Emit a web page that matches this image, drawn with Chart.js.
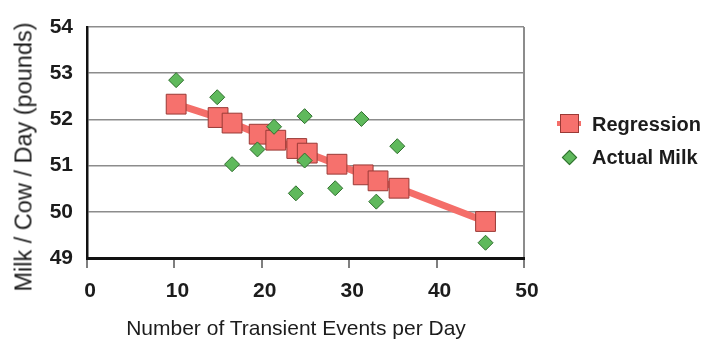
<!DOCTYPE html>
<html>
<head>
<meta charset="utf-8">
<script src="https://cdn.jsdelivr.net/npm/chart.js@4"></script>
<style>
  html, body { margin: 0; padding: 0; background: #fff; }
  #wrap { position: relative; width: 706px; height: 343px; font-family: "Liberation Sans", Arial, sans-serif; color: #1c1c1c; }
  #chart { position: absolute; left: 0; top: 0; }
  .ytitle { position: absolute; left: 24px; top: 157px; font-size: 23.5px; white-space: nowrap;
            transform: translate(-50%, -50%) rotate(-90deg); }
  .xtitle { position: absolute; left: 296px; top: 328px; font-size: 21px; white-space: nowrap;
            transform: translate(-50%, -50%); }
  .leg-text { position: absolute; left: 592px; font-size: 20px; font-weight: bold; white-space: nowrap;
              transform: translateY(-50%); }
  .leg-line { position: absolute; left: 557px; width: 24px; height: 5px; background: #f46e69; }
  .leg-rect { position: absolute; left: 560px; width: 17px; height: 17px; background: #f6716d; border: 1px solid #9a3a36; }
  .leg-diam { position: absolute; left: 564px; width: 9px; height: 9px; background: #5fb95c; border: 1px solid #2f6e2d;
              transform: rotate(45deg); }
</style>
</head>
<body>
<div id="wrap">
  <canvas id="chart" width="706" height="343"></canvas>
  <div class="ytitle">Milk / Cow / Day (pounds)</div>
  <div class="xtitle">Number of Transient Events per Day</div>
  <div class="leg-line" style="top:121px"></div>
  <div class="leg-rect" style="top:114px"></div>
  <div class="leg-text" style="top:124px">Regression</div>
  <div class="leg-diam" style="top:152px"></div>
  <div class="leg-text" style="top:157px">Actual Milk</div>
</div>

<script>
/* -------------------------------------------------
   Data
   ------------------------------------------------- */
const regressionX = [10.2, 15.0, 16.6, 19.7, 21.6, 24.0, 25.2, 28.6, 31.6, 33.3, 35.7, 45.6];
const regressionY = [52.33, 52.04, 51.92, 51.68, 51.55, 51.37, 51.27, 51.03, 50.80, 50.67, 50.51, 49.79];

const actualX = [10.2, 14.9, 16.6, 19.5, 21.4, 23.9, 24.9, 24.9, 28.4, 31.4, 33.1, 35.5, 45.6];
const actualY = [52.85, 52.48, 51.03, 51.35, 51.84, 50.40, 52.07, 51.11, 50.51, 52.01, 50.22, 51.42, 49.33];

const xTicks = [0, 10, 20, 30, 40, 50];
const yTicks = [49, 50, 51, 52, 53, 54];

/* -------------------------------------------------
   Helpers
   ------------------------------------------------- */
function toPoints(xs, ys) {
  return xs.map((x, i) => ({ x, y: ys[i] }));
}

const tickFont = { family: '"Liberation Sans", Arial, sans-serif', size: 21, weight: 'bold' };

/* -------------------------------------------------
   Chart
   ------------------------------------------------- */
new Chart(document.getElementById('chart').getContext('2d'), {
  type: 'scatter',
  data: {
    datasets: [
      {
        label: 'Regression',
        data: toPoints(regressionX, regressionY),
        showLine: true,
        borderColor: '#f46e69',
        borderWidth: 7,
        pointStyle: 'rect',
        pointRadius: 14,
        pointBackgroundColor: '#f6716d',
        pointBorderColor: '#9a3a36',
        pointBorderWidth: 1,
        order: 2,
      },
      {
        label: 'Actual Milk',
        data: toPoints(actualX, actualY),
        pointStyle: 'rectRot',
        pointRadius: 7.5,
        pointBackgroundColor: '#5fb95c',
        pointBorderColor: '#2f6e2d',
        pointBorderWidth: 1,
        order: 1,
      },
    ],
  },
  options: {
    responsive: false,
    animation: false,
    events: [],
    layout: { padding: { top: 27, right: 182, left: 0, bottom: 0 } },
    plugins: {
      legend: { display: false },
      tooltip: { enabled: false },
    },
    scales: {
      x: {
        type: 'linear',
        min: xTicks[0],
        max: xTicks[xTicks.length - 1],
        afterBuildTicks: s => { s.ticks = xTicks.map(v => ({ value: v })); },
        afterFit: s => { s.height = 85; },
        ticks: { font: tickFont, color: '#1c1c1c', padding: 11, labelOffset: 3 },
        grid: {
          // only the right-hand frame line shows inside the plot
          color: c => (c.tick && c.tick.value === 50 ? '#8c8c8c' : 'rgba(0,0,0,0)'),
          lineWidth: 2,
          tickColor: '#555',
          tickLength: 10,
          tickWidth: 1.5,
        },
        border: { color: '#111', width: 3 },
      },
      y: {
        type: 'linear',
        min: yTicks[0],
        max: yTicks[yTicks.length - 1],
        afterBuildTicks: s => { s.ticks = yTicks.map(v => ({ value: v })); },
        afterFit: s => { s.width = 87; },
        ticks: { font: tickFont, color: '#1c1c1c', padding: 14 },
        grid: { color: '#8c8c8c', lineWidth: 1.5, drawTicks: false },
        border: { color: '#111', width: 2.5 },
      },
    },
  },
});
</script>
</body>
</html>
